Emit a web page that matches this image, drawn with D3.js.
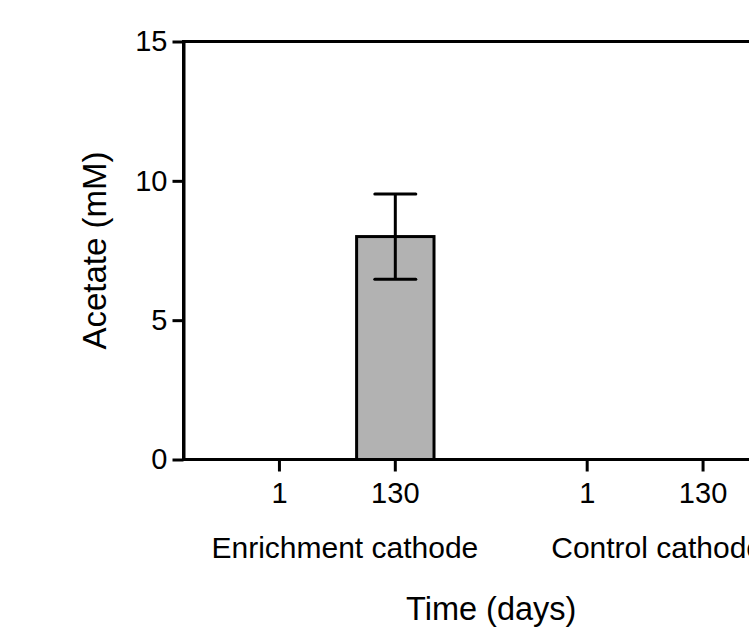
<!DOCTYPE html>
<html>
<head>
<meta charset="utf-8">
<script src="https://cdn.jsdelivr.net/npm/d3@7"></script>
<style>
	body { margin: 0; background: #fff; }
	svg { display: block; font-family: "Liberation Sans", Arial, sans-serif; }
</style>
</head>
<body>
<svg id="chart" width="749" height="628"></svg>
<script>
// chart values
const groups = ["Enrichment cathode", "Control cathode"];
const days = ["1", "130"];
const acetateMean = [[0, 8.0], [0, 0]];   // mM, per group, per day
const acetateSd = [[0, 1.53], [0, 0]];
const yTicks = [0, 5, 10, 15];

const svg = d3.select("#chart");
const plotLeft = 183.5, plotTop = 41.5, plotBottom = 459.5, plotRight = 799;

// group scale, then day scale inside each group
const outer = d3.scaleBand().domain(groups).range([plotLeft, plotRight]).padding(0);
const inner = d3.scaleBand().domain(days).range([0, outer.bandwidth()])
	.paddingInner(0.332).paddingOuter(0.494);
const y = d3.scaleLinear().domain([0, 15]).range([plotBottom, plotTop]);

const rows = [];
groups.forEach((g, i) => days.forEach((d, j) => {
	rows.push({ group: g, day: d, mean: acetateMean[i][j], sd: acetateSd[i][j] });
}));
const cx = r => outer(r.group) + inner(r.day) + inner.bandwidth() / 2;

// bars
const bars = rows.filter(r => r.mean > 0);
svg.append("g").selectAll("rect")
	.data(bars)
	.join("rect")
	.attr("x", r => outer(r.group) + inner(r.day))
	.attr("y", r => y(r.mean))
	.attr("width", inner.bandwidth())
	.attr("height", r => y(0) - y(r.mean))
	.attr("fill", "#b2b2b2")
	.attr("stroke", "#000")
	.attr("stroke-width", 3);

// error bars
const err = svg.append("g").attr("stroke", "#000").attr("stroke-width", 3).attr("fill", "none");
bars.forEach(r => {
	const x = cx(r), cap = 20.5;
	err.append("line").attr("x1", x).attr("x2", x).attr("y1", y(r.mean - r.sd)).attr("y2", y(r.mean + r.sd));
	err.append("line").attr("x1", x - cap).attr("x2", x + cap).attr("y1", y(r.mean + r.sd)).attr("y2", y(r.mean + r.sd)).attr("stroke-linecap", "round");
	err.append("line").attr("x1", x - cap).attr("x2", x + cap).attr("y1", y(r.mean - r.sd)).attr("y2", y(r.mean - r.sd)).attr("stroke-linecap", "round");
});

// frame
svg.append("rect")
	.attr("x", plotLeft).attr("y", plotTop)
	.attr("width", plotRight - plotLeft).attr("height", plotBottom - plotTop)
	.attr("fill", "none").attr("stroke", "#000").attr("stroke-width", 3);

// y axis
const yAxis = svg.append("g")
	.attr("transform", `translate(${plotLeft},0)`)
	.call(d3.axisLeft(y).tickValues(yTicks).tickSize(11).tickSizeOuter(0).tickPadding(5));
yAxis.select(".domain").attr("stroke-width", 3);
yAxis.selectAll(".tick line").attr("stroke-width", 3);
yAxis.selectAll(".tick text").attr("font-size", 29).attr("fill", "#000")
	.attr("font-family", "Liberation Sans, Arial, sans-serif");

// x ticks, one per day inside each group
const xt = svg.append("g").selectAll("g")
	.data(rows)
	.join("g")
	.attr("transform", r => `translate(${cx(r)},${plotBottom})`);
xt.append("line").attr("y1", 0).attr("y2", 12).attr("stroke", "#000").attr("stroke-width", 3);
xt.append("text").attr("y", 43.5).attr("text-anchor", "middle")
	.attr("font-size", 29).text(r => r.day);

// group labels
svg.append("g").selectAll("text")
	.data(groups)
	.join("text")
	.attr("x", (g, i) => outer(g) + outer.bandwidth() / 2 + (i === 0 ? 7.5 : 12))
	.attr("y", 558)
	.attr("text-anchor", "middle")
	.attr("font-size", 30)
	.text(g => g);

// axis titles
svg.append("text")
	.attr("x", (plotLeft + plotRight) / 2).attr("y", 620)
	.attr("text-anchor", "middle").attr("font-size", 32.5)
	.text("Time (days)");
svg.append("text")
	.attr("transform", `translate(106,${(plotTop + plotBottom) / 2}) rotate(-90)`)
	.attr("text-anchor", "middle").attr("font-size", 33)
	.text("Acetate (mM)");
</script>
</body>
</html>
